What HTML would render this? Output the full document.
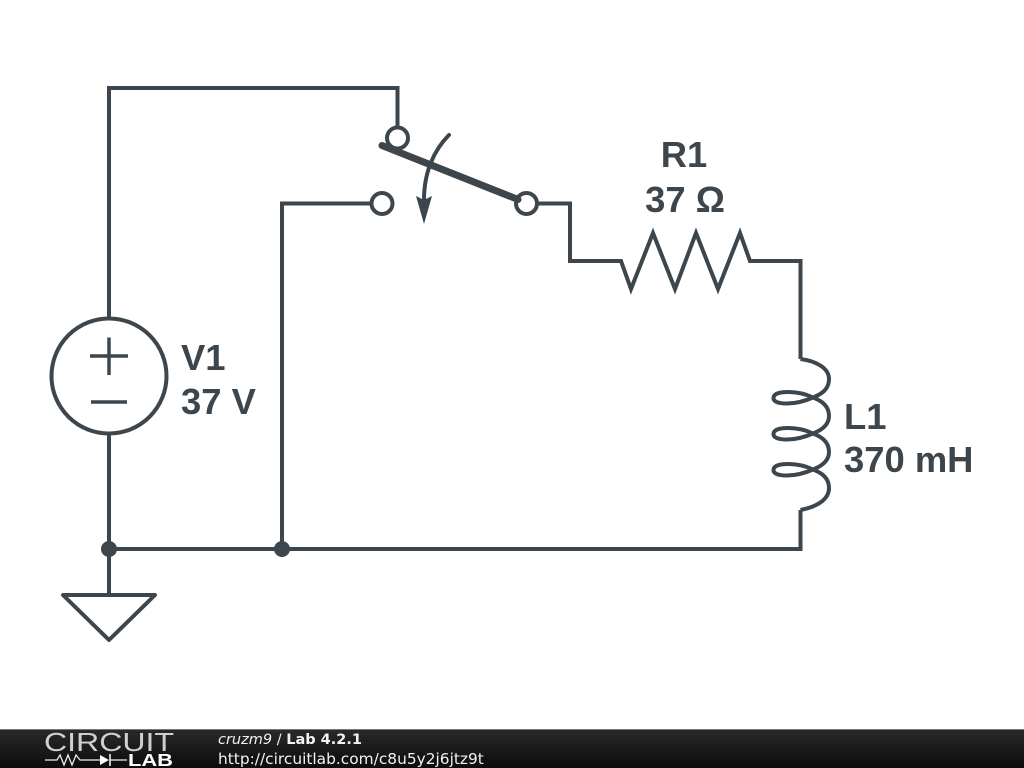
<!DOCTYPE html>
<html>
<head>
<meta charset="utf-8">
<style>
html,body{margin:0;padding:0;background:#fff;width:1024px;height:768px;overflow:hidden}
svg{display:block;position:absolute;left:0;top:0}
</style>
</head>
<body>
<svg width="1024" height="768" viewBox="0 0 1024 768" xmlns="http://www.w3.org/2000/svg">
<defs>
<linearGradient id="bar" x1="0" y1="0" x2="0" y2="1">
<stop offset="0" stop-color="#2a2a2a"/>
<stop offset="1" stop-color="#0c0c0c"/>
</linearGradient>
</defs>
<rect width="1024" height="768" fill="#fff"/>
<g fill="none" stroke="#3c464c" stroke-width="4" stroke-linejoin="miter">
<path d="M109 318V88H397.500V129"/>
<path d="M109 434V594"/>
<path d="M109 549H800.500V510"/>
<path d="M282 549V203.500H371"/>
<path d="M538 203.500H570V261H621L631 289L653 233L675 289L696 233L718 289L740 233L750 261H800.500V359"/>
<circle cx="109" cy="376" r="57.500"/>
<path d="M90 356H128M109 337.500V375M91 402H127" stroke-width="3.500"/>
<circle cx="397.500" cy="138" r="10.500"/>
<circle cx="382" cy="203.500" r="10.500"/>
<circle cx="526.500" cy="203.500" r="10.500"/>
<path d="M382 145.500L518 199.500" stroke-width="7" stroke-linecap="round"/>
<path d="M449 135C434 150 424 172 424 200" stroke-width="4" stroke-linecap="round"/>
<path d="M800.500 359C816 361 829 368 829 379C829 389 822 394 813 397.500C805 401 796 403.500 787 403.500C778 403.500 773.500 401.500 773.500 398C773.500 394.500 778 392 788 392C797 392 806 394 813 397.500C822 401 829 406 829 416C829 425 822 430 813 433.500C805 437 796 439.500 787 439.500C778 439.500 773.500 437.500 773.500 434C773.500 430.500 778 428 788 428C797 428 806 430 813 433.500C822 437 829 442 829 452C829 461 822 466 813 469.500C805 473 796 475.500 787 475.500C778 475.500 773.500 473.500 773.500 470C773.500 466.500 778 464 788 464C797 464 806 466 813 469.500C822 473 829 478 829 488C829 500 816 507 800.500 510" stroke-width="4"/>
<path d="M63 595H155L109 640Z" stroke-linejoin="round"/>
</g>
<path d="M416 196L424 224L432 196L424 200Z" fill="#3c464c"/>
<circle cx="109" cy="549" r="8" fill="#3c464c"/>
<circle cx="282" cy="549" r="8" fill="#3c464c"/>
<g font-family="'Liberation Sans',sans-serif" font-weight="700" font-size="36.400" fill="#3c464c">
<text x="684" y="167" text-anchor="middle">R1</text>
<text x="685" y="212" text-anchor="middle">37 Ω</text>
<text x="181" y="370">V1</text>
<text x="181" y="414">37 V</text>
<text x="844" y="429">L1</text>
<text x="844" y="472">370 mH</text>
</g>
<rect x="0" y="729" width="1024" height="39" fill="url(#bar)"/>
<rect x="0" y="729" width="1024" height="1" fill="#777"/>
<text x="44" y="751" font-family="'Liberation Sans',sans-serif" font-size="26" fill="#d0d0d0" textLength="130" lengthAdjust="spacingAndGlyphs">CIRCUIT</text>
<path d="M45 760H57L60 755L64 765L68 755L72 765L76 755L80 760H100M110 760H127" fill="none" stroke="#eee" stroke-width="1.300"/>
<path d="M100 755L109 760L100 765Z" fill="#fff"/>
<path d="M110 754V766" stroke="#fff" stroke-width="1.500"/>
<text x="128" y="766" font-family="'Liberation Sans',sans-serif" font-weight="700" font-size="17.500" fill="#fff" textLength="45" lengthAdjust="spacingAndGlyphs">LAB</text>
<g font-family="'DejaVu Sans',sans-serif" fill="#f2f2f2">
<text x="218" y="744" font-size="14.500"><tspan font-style="oblique">cruzm9</tspan> / <tspan font-weight="700">Lab 4.2.1</tspan></text>
<text x="218" y="764" font-size="15.400">http://circuitlab.com/c8u5y2j6jtz9t</text>
</g>
</svg>
</body>
</html>
